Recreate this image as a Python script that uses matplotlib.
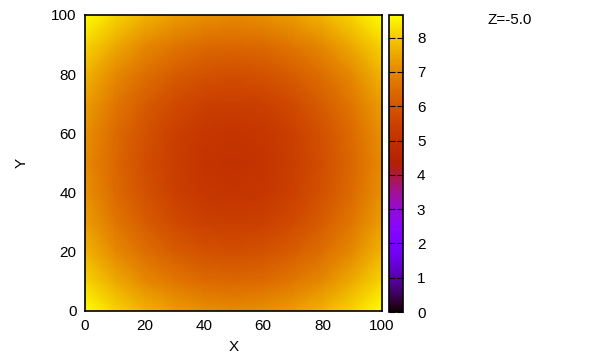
import numpy as np
import matplotlib
matplotlib.use("Agg")
import matplotlib.pyplot as plt

plt.rcParams['font.family'] = ['Liberation Sans', 'DejaVu Sans']
plt.rcParams['font.size'] = 11

# grid positions (X and Y) and values
x_pos = [0, 10, 20, 30, 40, 50, 60, 70, 80, 90, 100]
y_pos = [0, 10, 20, 30, 40, 50, 60, 70, 80, 90, 100]
values = [
    [8.66, 8.12, 7.68, 7.35, 7.14, 7.07, 7.14, 7.35, 7.68, 8.12, 8.66],
    [8.12, 7.55, 7.07, 6.71, 6.48, 6.40, 6.48, 6.71, 7.07, 7.55, 8.12],
    [7.68, 7.07, 6.56, 6.16, 5.92, 5.83, 5.92, 6.16, 6.56, 7.07, 7.68],
    [7.35, 6.71, 6.16, 5.74, 5.48, 5.39, 5.48, 5.74, 6.16, 6.71, 7.35],
    [7.14, 6.48, 5.92, 5.48, 5.20, 5.10, 5.20, 5.48, 5.92, 6.48, 7.14],
    [7.07, 6.40, 5.83, 5.39, 5.10, 5.00, 5.10, 5.39, 5.83, 6.40, 7.07],
    [7.14, 6.48, 5.92, 5.48, 5.20, 5.10, 5.20, 5.48, 5.92, 6.48, 7.14],
    [7.35, 6.71, 6.16, 5.74, 5.48, 5.39, 5.48, 5.74, 6.16, 6.71, 7.35],
    [7.68, 7.07, 6.56, 6.16, 5.92, 5.83, 5.92, 6.16, 6.56, 7.07, 7.68],
    [8.12, 7.55, 7.07, 6.71, 6.48, 6.40, 6.48, 6.71, 7.07, 7.55, 8.12],
    [8.66, 8.12, 7.68, 7.35, 7.14, 7.07, 7.14, 7.35, 7.68, 8.12, 8.66],
]
cb_ticks = [0, 1, 2, 3, 4, 5, 6, 7, 8]
ticks = [0, 20, 40, 60, 80, 100]

W, H = 600, 360
fig = plt.figure(figsize=(6, 3.6), dpi=100)
ax = fig.add_axes([85 / W, 1 - 311 / H, 297 / W, 296 / H])
cax = fig.add_axes([389 / W, 1 - 312 / H, 14 / W, 297 / H])

vmax = np.max(values)
mesh = ax.pcolormesh(x_pos, y_pos, np.array(values), cmap='gnuplot',
                     shading='gouraud', vmin=0, vmax=vmax)
ax.set_xlim(0, 100)
ax.set_ylim(0, 100)
ax.set_xticks(ticks)
ax.set_yticks(ticks)
ax.tick_params(length=0, pad=6)
ax.set_xlabel('X', labelpad=5)
ax.set_ylabel('Y', labelpad=16)
for s in ax.spines.values():
    s.set_linewidth(1.2)

cb = fig.colorbar(mesh, cax=cax, ticks=cb_ticks)
cb.outline.set_linewidth(1.2)
cax.tick_params(direction='in', length=4, width=0.8, left=True, right=True, pad=10)

fig.text(510 / W, 1 - 20 / H, 'Z=-5.0', ha='center', va='center')

fig.savefig('out.png', dpi=100)
